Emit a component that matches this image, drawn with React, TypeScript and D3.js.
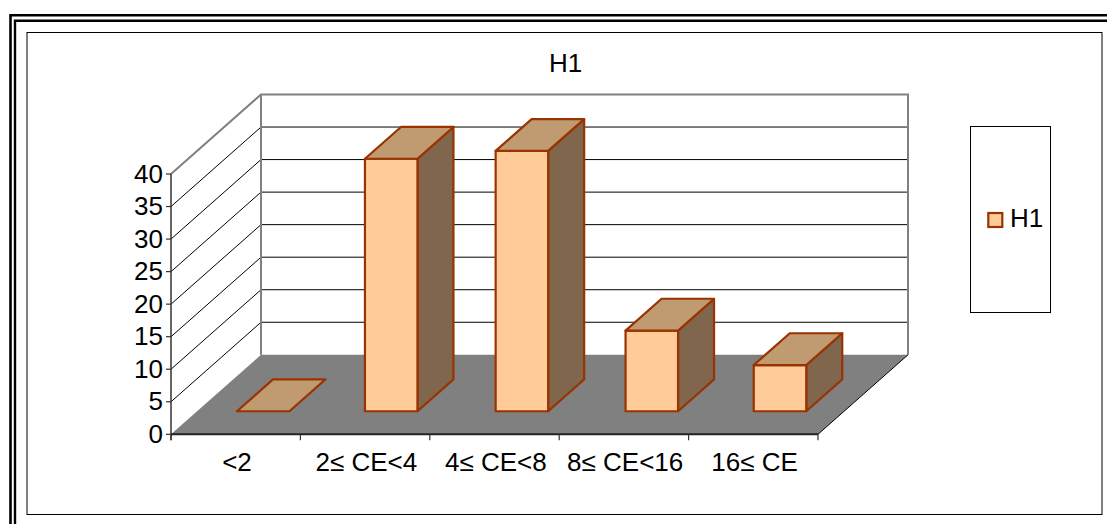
import React from "react";
import * as d3 from "d3";

const categories = ["<2", "2≤ CE<4", "4≤ CE<8", "8≤ CE<16", "16≤ CE"];
const values = [0, 38.8, 40, 12.4, 7.1];
const valueTicks = [0, 5, 10, 15, 20, 25, 30, 35, 40];
const barNudges = [2, 0.6, 1.9, 2.4, 1.2];
const seriesName = "H1";
const font = "Liberation Sans, Arial, sans-serif";

const W = 1107, H = 524;
const y = d3.scaleLinear().domain([0, 40]).range([434.3, 174]);
const x = d3.scaleBand<string>().domain(categories).range([171, 818]);
const depthX = 90, depthY = -79.5;
const barDepthStart = 0.29, barDepthSpan = 0.4;
const barW = 52.5;
const FS = 26;

const poly = (pts: [number, number][]) => (d3.line()(pts) as string) + "Z";
const BAR = "#993300", FRONT = "#FFCC99", TOP = "#C09A70", SIDE = "#7F664D";

function Label({ x: px, y: py, anchor, children }: { x: number; y: number; anchor: "start" | "middle" | "end"; children: React.ReactNode }) {
  return (
    <text x={px} y={py} fontSize={FS} textAnchor={anchor} fill="#000">
      {children}
    </text>
  );
}

export default function App() {
  const x0 = 171, x1 = 818, y0 = y(0), yT = y(40);
  return (
    <svg width={W} height={H} style={{ position: "fixed", left: 0, top: 0, background: "#fff" }} fontFamily={font}>
      {/* page frame */}
      <path d="M10.5 524V15.3H1107" fill="none" stroke="#000" strokeWidth={2.6} />
      <path d="M15 524V20.7H1107" fill="none" stroke="#000" strokeWidth={2.4} />
      <rect x={27} y={32.5} width={1075} height={482} fill="#fff" stroke="#000" strokeWidth={1} />
      <Label x={565.5} y={71.5} anchor="middle">{seriesName}</Label>

      {/* back wall gridlines */}
      {valueTicks.filter(t => t > 0 && t < 40).map(t => (
        <path key={t} d={`M${x0} ${y(t)}L${x0 + depthX} ${y(t) + depthY}H${x1 + depthX}`} fill="none" stroke="#000" strokeWidth={1} />
      ))}
      <path d={`M${x0} ${yT}L${x0 + depthX} ${yT + depthY}H${x1 + depthX}V${y0 + depthY}`} fill="none" stroke="#808080" strokeWidth={2} />
      <path d={`M${x0 + depthX} ${yT + depthY}V${y0 + depthY}`} stroke="#808080" strokeWidth={2} />
      {/* floor */}
      <path d={poly([[x0, y0], [x0 + depthX, y0 + depthY], [x1 + depthX, y0 + depthY], [x1, y0]])} fill="#808080" />
      <path d={`M${x1} ${y0}L${x1 + depthX} ${y0 + depthY}`} stroke="#000" strokeWidth={1} />

      {/* axes */}
      <path d={`M${x0} ${yT}V${y0 + 6}`} fill="none" stroke="#333" strokeWidth={1.5} />
      <path d={`M${x0} ${y0}H${x1}`} fill="none" stroke="#222" strokeWidth={2} />
      {valueTicks.map(t => (
        <g key={t}>
          <line x1={x0 - 5} x2={x0} y1={y(t)} y2={y(t)} stroke="#333" strokeWidth={1.2} />
          <Label x={x0 - 8} y={y(t) + 8.5} anchor="end">{t}</Label>
        </g>
      ))}
      {[...categories.map(c => x(c) as number), x1].map((p, i) => (
        <line key={i} x1={p} x2={p} y1={y0} y2={y0 + 6} stroke="#333" strokeWidth={1.2} />
      ))}
      {categories.map(c => (
        <Label key={c} x={(x(c) as number) + x.bandwidth() / 2 + 1.3} y={471} anchor="middle">{c}</Label>
      ))}

      {/* bars */}
      {categories.map((c, i) => {
        const cx = (x(c) as number) + x.bandwidth() / 2 + depthX * (barDepthStart + barDepthSpan / 2) - 0.6 + barNudges[i];
        const l = cx - depthX * barDepthSpan / 2 - barW / 2;
        const r = l + barW;
        const bottom = y0 + depthY * barDepthStart;
        const top = bottom - (y0 - y(values[i]));
        const dx = depthX * barDepthSpan, dy = depthY * barDepthSpan;
        const common = { stroke: BAR, strokeWidth: 2.2, strokeLinejoin: "round" as const };
        return (
          <g key={c}>
            {values[i] > 0 && <path d={poly([[r, bottom], [r + dx, bottom + dy], [r + dx, top + dy], [r, top]])} fill={SIDE} {...common} />}
            {values[i] > 0 && <path d={poly([[l, bottom], [r, bottom], [r, top], [l, top]])} fill={FRONT} {...common} />}
            <path d={poly([[l, top], [r, top], [r + dx, top + dy], [l + dx, top + dy]])} fill={TOP} {...common} />
          </g>
        );
      })}

      {/* legend */}
      <rect x={970.5} y={126.5} width={80} height={186} fill="#fff" stroke="#000" strokeWidth={1} />
      <rect x={988.3} y={213} width={14} height={14} fill={FRONT} stroke={BAR} strokeWidth={2.2} />
      <Label x={1010} y={226.5} anchor="start">{seriesName}</Label>
    </svg>
  );
}
